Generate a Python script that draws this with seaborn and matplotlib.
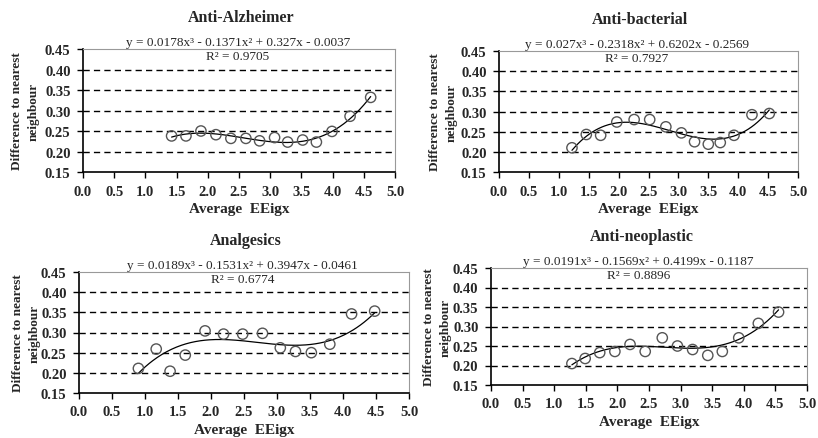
import numpy as np
import pandas as pd
import matplotlib
matplotlib.use("Agg")
import matplotlib.pyplot as plt
import seaborn as sns

# ---------------- data ----------------
titles = ["Anti-Alzheimer", "Anti-bacterial", "Analgesics", "Anti-neoplastic"]

alz_x = [1.42, 1.65, 1.89, 2.13, 2.37, 2.61, 2.83, 3.07, 3.28, 3.52, 3.74, 3.99, 4.28, 4.61]
alz_y = [0.238, 0.238, 0.250, 0.241, 0.232, 0.232, 0.226, 0.234, 0.223, 0.228, 0.223, 0.249, 0.286, 0.332]

bac_x = [1.22, 1.46, 1.70, 1.97, 2.26, 2.52, 2.79, 3.05, 3.27, 3.50, 3.70, 3.93, 4.23, 4.52]
bac_y = [0.210, 0.243, 0.241, 0.274, 0.280, 0.280, 0.262, 0.247, 0.225, 0.219, 0.223, 0.241, 0.292, 0.295]

ana_x = [0.90, 1.17, 1.38, 1.61, 1.91, 2.19, 2.48, 2.78, 3.05, 3.28, 3.52, 3.80, 4.13, 4.48]
ana_y = [0.211, 0.259, 0.204, 0.244, 0.304, 0.296, 0.296, 0.298, 0.262, 0.253, 0.250, 0.271, 0.346, 0.353]

neo_x = [1.28, 1.49, 1.72, 1.96, 2.20, 2.44, 2.71, 2.95, 3.19, 3.43, 3.66, 3.92, 4.23, 4.55]
neo_y = [0.205, 0.218, 0.233, 0.236, 0.254, 0.236, 0.271, 0.250, 0.241, 0.226, 0.236, 0.271, 0.308, 0.337]

# cubic trendline coefficients (x^3, x^2, x, const) as printed on the chart
alz_coef = [0.0178, -0.1371, 0.327, -0.0037]
bac_coef = [0.027, -0.2318, 0.6202, -0.2569]
ana_coef = [0.0189, -0.1531, 0.3947, -0.0461]
neo_coef = [0.0191, -0.1569, 0.4199, -0.1187]

equations = [
    "y = 0.0178x³ - 0.1371x² + 0.327x - 0.0037",
    "y = 0.027x³ - 0.2318x² + 0.6202x - 0.2569",
    "y = 0.0189x³ - 0.1531x² + 0.3947x - 0.0461",
    "y = 0.0191x³ - 0.1569x² + 0.4199x - 0.1187",
]
r2_labels = ["R² = 0.9705", "R² = 0.7927", "R² = 0.6774", "R² = 0.8896"]

x_ticks = [0.0, 0.5, 1.0, 1.5, 2.0, 2.5, 3.0, 3.5, 4.0, 4.5, 5.0]
y_ticks = [0.15, 0.20, 0.25, 0.30, 0.35, 0.40, 0.45]
x_label = "Average  EEigx"
y_label = "Difference to nearest\nneighbour"

series = [(alz_x, alz_y, alz_coef), (bac_x, bac_y, bac_coef),
          (ana_x, ana_y, ana_coef), (neo_x, neo_y, neo_coef)]

# ---------------- layout ----------------
W, H = 818, 439
sns.set_theme(style="white")
plt.rcParams["font.family"] = ["Liberation Serif", "DejaVu Serif"]

fig = plt.figure(figsize=(W / 100, H / 100), dpi=100)
fig.patch.set_facecolor("white")

# (left, top, right, bottom) in pixels
boxes = [(83, 50, 395, 173), (499, 52, 798, 173), (79, 273, 409, 394), (491, 269, 807, 386)]
title_cx = [241, 640, 246, 642]
ylab_px = [40, 458, 41, 452]   # right edge of the two-line y label

for i, (bx, (xs, ys, coef)) in enumerate(zip(boxes, series)):
    l, t, r, b = bx
    ax = fig.add_axes([l / W, (H - b) / H, (r - l) / W, (b - t) / H])
    ax.set_facecolor("white")

    df = pd.DataFrame({"x": xs, "y": ys})
    xx = np.linspace(min(xs), max(xs), 200)
    fit = pd.DataFrame({"x": xx, "y": np.polyval(coef, xx)})

    for gy in y_ticks[1:-1]:
        ax.axhline(gy, color="black", lw=1.0, ls=(0, (4.5, 3)), zorder=0)

    sns.lineplot(data=fit, x="x", y="y", ax=ax, color="black", lw=0.9, zorder=2)
    sns.scatterplot(data=df, x="x", y="y", ax=ax, marker="o", s=55,
                    facecolor="none", edgecolor="#555555", linewidth=1.0, zorder=3)

    ax.set_xlim(0, 5.0)
    ax.set_ylim(0.15, 0.45)
    ax.set_xticks(x_ticks)
    ax.set_yticks(y_ticks)
    ax.set_xticklabels([f"{v:.1f}" for v in x_ticks], fontsize=10.5, fontweight="bold")
    ax.set_yticklabels([f"{v:.2f}" for v in y_ticks], fontsize=10.5, fontweight="bold")
    ax.tick_params(axis="both", direction="out", length=4, width=1.0, color="black",
                   bottom=True, left=True)
    ax.tick_params(axis="x", pad=5)
    ax.tick_params(axis="y", pad=5)

    for s in ["left", "bottom"]:
        ax.spines[s].set_color("black")
        ax.spines[s].set_linewidth(1.2)
    for s in ["top", "right"]:
        ax.spines[s].set_color("#999999")
        ax.spines[s].set_linewidth(0.8)

    ax.set_xlabel(x_label, fontsize=11, fontweight="bold", labelpad=3)
    ax.set_ylabel(y_label, fontsize=9.5, fontweight="bold", linespacing=1.5,
                  multialignment="center")
    ax.yaxis.set_label_coords((ylab_px[i] - l) / (r - l), 0.5)

    fig.text(title_cx[i] / W, (H - (t - 32)) / H, titles[i], ha="center", va="center",
             fontsize=11.5, fontweight="bold")
    fig.text(title_cx[i] / W - 0.004, (H - (t - 7)) / H, equations[i], ha="center", va="center",
             fontsize=9.5)
    fig.text(title_cx[i] / W - 0.004, (H - (t + 7)) / H, r2_labels[i], ha="center", va="center",
             fontsize=9.5)

fig.savefig("out.png", dpi=100, facecolor="white")
